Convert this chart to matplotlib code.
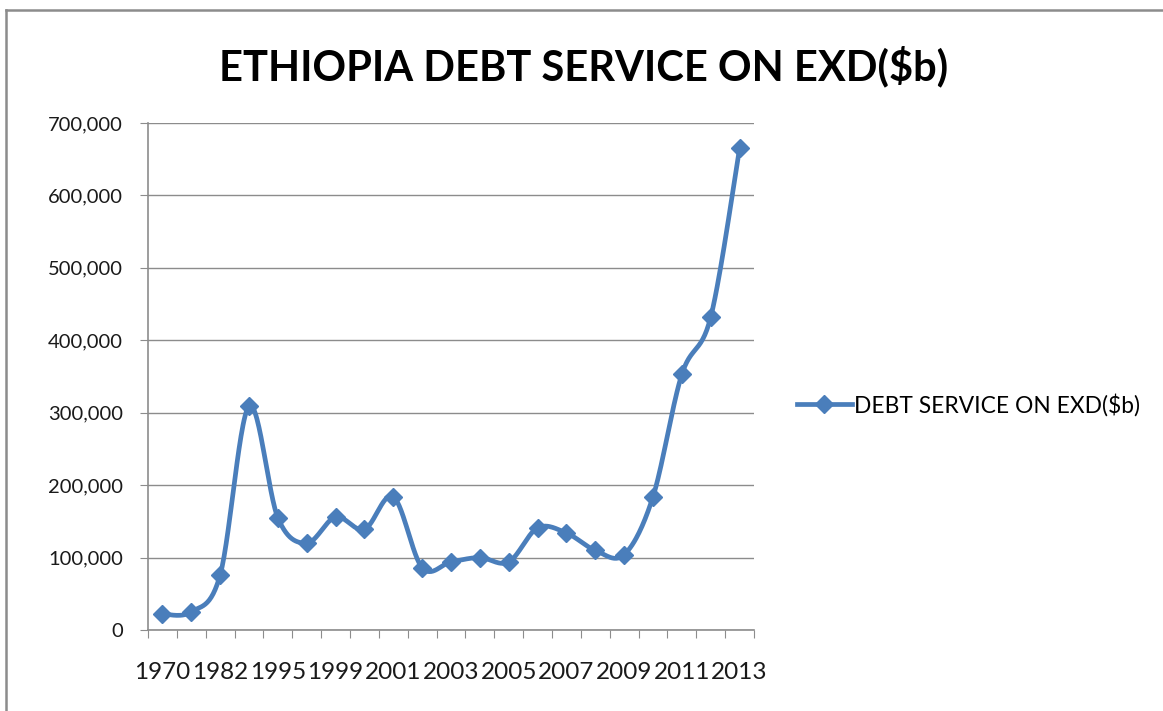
import matplotlib
matplotlib.use("Agg")
import matplotlib.pyplot as plt
from matplotlib.lines import Line2D
from matplotlib.ticker import FuncFormatter, FixedLocator
import numpy as np

plt.rcParams['font.family'] = ['Lato', 'DejaVu Sans']

# Years of each observation (only every other one is labelled on the axis)
years = ['1970', '1980', '1982', '1990', '1995', '1997', '1999', '2000', '2001', '2002',
         '2003', '2004', '2005', '2006', '2007', '2008', '2009', '2010', '2011', '2012', '2013']
debt_service = [22000, 25000, 76000, 309000, 155000, 120000, 156000, 139000, 184000, 86000,
                94000, 100000, 94000, 141000, 134000, 110000, 104000, 184000, 353000, 432000, 665000]
series_name = 'DEBT SERVICE ON EXD($b)'
title = 'ETHIOPIA DEBT SERVICE ON EXD($b)'

LINE = '#4A7EBB'
GRID = '#8C8C8C'
W, H = 1163, 711


def smooth(xs, ys, steps=30):
    '''Cubic Bezier through every point, Catmull-Rom style control points'''
    pts = np.column_stack([xs, ys]).astype(float)
    padded = np.vstack([pts[0], pts, pts[-1]])
    t = np.linspace(0, 1, steps)[:, None]
    out = []
    for i in range(len(pts) - 1):
        p0, p1, p2, p3 = padded[i], padded[i + 1], padded[i + 2], padded[i + 3]
        c1 = p1 + (p2 - p0) / 6
        c2 = p2 - (p3 - p1) / 6
        seg = ((1 - t) ** 3) * p1 + 3 * ((1 - t) ** 2) * t * c1 + 3 * (1 - t) * t ** 2 * c2 + t ** 3 * p2
        out.append(seg if i == 0 else seg[1:])
    out = np.vstack(out)
    return out[:, 0], out[:, 1]


fig = plt.figure(figsize=(W / 100, H / 100), dpi=100)
# chart-area border (top and left edges only are in frame)
fig.lines.append(Line2D([6 / W, 1.0], [1 - 10 / H] * 2, transform=fig.transFigure, color=GRID, lw=1.8))
fig.lines.append(Line2D([6 / W] * 2, [0, 1 - 10 / H], transform=fig.transFigure, color=GRID, lw=1.8))

ax = fig.add_axes([148 / W, 81 / H, 606 / W, 507 / H])
x = np.arange(len(years))
sx, sy = smooth(x, debt_service)
ax.plot(sx, sy, color=LINE, lw=3.4, solid_capstyle='round', zorder=3)
ax.plot(x, debt_service, ls='none', marker='D', ms=9, color=LINE, zorder=4)

ax.set_xlim(-0.5, len(years) - 0.5)
ax.set_ylim(0, 700000)
ax.set_yticks(np.arange(0, 700001, 100000))
ax.yaxis.set_major_formatter(FuncFormatter(lambda v, p: f'{int(v):,}'))
ax.grid(axis='y', color=GRID, lw=1)
ax.set_axisbelow(True)

# boundary ticks between categories, labels on every other category
ax.xaxis.set_major_locator(FixedLocator(np.arange(-0.5, len(years), 1.0)))
ax.xaxis.set_major_formatter(FuncFormatter(lambda v, p: ''))
ax.xaxis.set_minor_locator(FixedLocator(x[::2]))
ax.set_xticklabels(years[::2], minor=True)
ax.tick_params(axis='x', which='major', length=6, color=GRID, direction='out')
ax.tick_params(axis='x', which='minor', length=0, pad=23, labelsize=17.5, labelcolor='#1a1a1a')
ax.tick_params(axis='y', length=6, color=GRID, labelsize=14.5, labelcolor='#1a1a1a', pad=12)

for s in ('top', 'right'):
    ax.spines[s].set_visible(False)
for s in ('left', 'bottom'):
    ax.spines[s].set_color(GRID)
    ax.spines[s].set_linewidth(1.2)

fig.text(584 / W, 1 - 66 / H, title, ha='center', va='center',
         fontsize=30, fontweight='bold', color='black')

ax.legend([Line2D([0], [0], color=LINE, lw=3.4, marker='D', ms=9)], [series_name],
          loc='center left', bbox_to_anchor=(788 / W, 1 - 405 / H),
          bbox_transform=fig.transFigure, frameon=False, fontsize=16.4,
          handlelength=2.4, handletextpad=0.1, borderaxespad=0)

fig.savefig('out.png', dpi=100)
